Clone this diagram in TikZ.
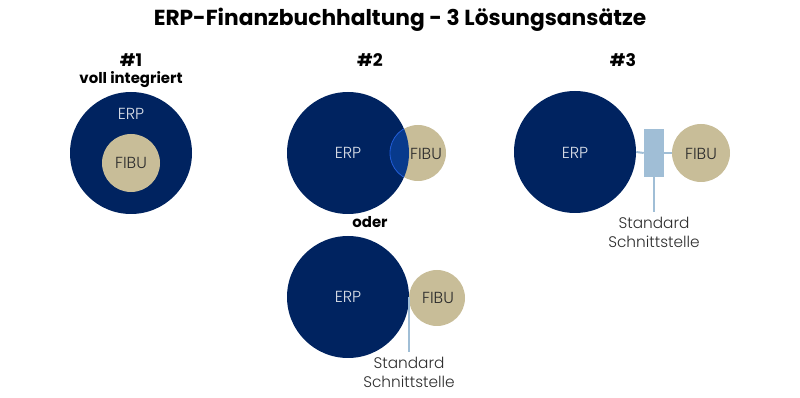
\documentclass[tikz,border=0pt]{standalone}
\usepackage{fontspec}
\setmainfont{Poppins}
\newfontfamily\thin{Poppins Light}
\definecolor{navy}{RGB}{0,35,96}
\definecolor{sand}{RGB}{200,189,152}
\definecolor{iface}{RGB}{160,190,214}
\definecolor{lens}{RGB}{8,58,140}
\definecolor{lensline}{RGB}{30,90,215}
\definecolor{ink}{RGB}{45,45,45}
\tikzset{
  erp/.style={circle,fill=navy,inner sep=0pt,minimum size=91.5pt},
  fibu/.style={circle,fill=sand,inner sep=0pt,minimum size=43.5pt},
  erptext/.style={text=white!85!navy,font=\thin\fontsize{12}{14}\selectfont},
  fibutext/.style={text=ink,font=\thin\fontsize{12}{14}\selectfont},
  head/.style={font=\bfseries\fontsize{13}{15}\selectfont},
  subhead/.style={font=\bfseries\fontsize{11.2}{13}\selectfont},
  note/.style={text=ink,align=center,font=\thin\fontsize{11.5}{14.2}\selectfont},
  link/.style={iface,line width=1.5pt}
}
\begin{document}
\begin{tikzpicture}[x=0.75pt,y=-0.75pt]
      \useasboundingbox (0,0) rectangle (800,398);
      \node [font=\bfseries\fontsize{16.3}{19}\selectfont] (title) at (400,20) {ERP-Finanzbuchhaltung - 3 Lösungsansätze};

      \node [head] (h1) at (131,60) {\#1};
      \node [subhead] (sub1) at (131,80) {voll integriert};
      \node [erp] (erp1) at (131,153) {};
      \node [fibu,minimum size=43.5pt] (fibu1) at (131,163) {};
      \node [erptext] at (131,114) {ERP};
      \node [fibutext] at (131,163) {FIBU};

      \node [head] (h2) at (370,60) {\#2};
      \node [erp] (erp2) at (348,153) {};
      \node [fibu,minimum size=42pt] (fibu2) at (418,153) {};
      \begin{scope}
        \clip (erp2.center) circle [radius=45.75pt];
        \fill [lens] (fibu2.center) circle [radius=21pt];
        \draw [lensline,line width=0.6pt] (fibu2.center) circle [radius=21pt];
      \end{scope}
      \node [erptext] at (348,153) {ERP};
      \node [fibutext] at (426,154) {FIBU};
      \node [subhead] (oder) at (370,222) {oder};

      \node [erp] (erp4) at (348,297) {};
      \node [fibu,minimum size=42pt] (fibu4) at (437,298) {};
      \node [erptext] at (348,297) {ERP};
      \node [fibutext] at (438,298) {FIBU};
      \node [note] (std4) at (409,372) {Standard\\Schnittstelle};
      \draw [link] (erp4.east) -- (std4.north -| erp4.east);

      \node [head] (h3) at (623,60) {\#3};
      \node [erp] (erp3) at (575,152) {};
      \node [draw=none,fill=iface,minimum width=15pt,minimum height=36pt,inner sep=0pt] (box3) at (654,153) {};
      \node [fibu] (fibu3) at (701,153) {};
      \node [erptext] at (575,153) {ERP};
      \node [fibutext] at (701,154) {FIBU};
      \node [note] (std3) at (654,232) {Standard\\Schnittstelle};
      \draw [link] (erp3.east) -- (box3.west);
      \draw [link] (box3.east) -- (fibu3.west);
      \draw [link] (box3.south) -- (std3.north);
\end{tikzpicture}
\end{document}
